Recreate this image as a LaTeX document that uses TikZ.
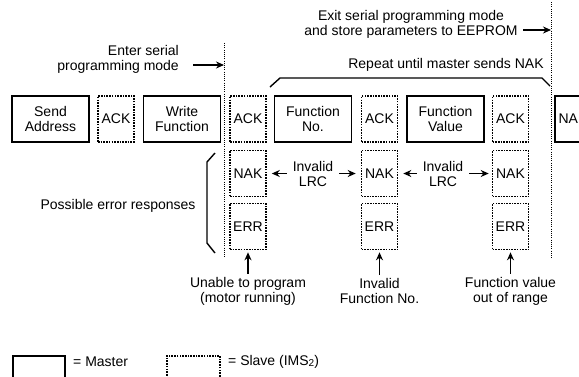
\documentclass[tikz,border=0pt]{standalone}
\usepackage{fontspec}
\setmainfont{Liberation Sans}
\usetikzlibrary{arrows.meta}
\begin{document}
\begin{tikzpicture}[x=1pt,y=-1pt,
  font=\fontsize{14}{15}\selectfont,
  master/.style={draw, line width=1.6pt, minimum height=46pt, inner sep=1pt, align=center},
  slave/.style={draw, line width=1.6pt, dash pattern=on 1.6pt off 1.1pt, minimum height=46pt, minimum width=36pt, inner sep=1pt, align=center},
  wide/.style={minimum width=77pt},
  lbl/.style={inner sep=0pt, align=center},
  arr/.style={line width=1.6pt, -{Stealth[length=8pt,width=7pt]}},
  divider/.style={line width=0.8pt, dash pattern=on 1pt off 1.2pt},
  bracket/.style={line width=1.4pt}
]
\useasboundingbox (0,0) rectangle (579,376);
\clip (0,0) rectangle (579,376);
% top row
\node[master, wide] (sa) at (50.5,119) {Send\\Address};
\node[slave] (ack1) at (116,119) {ACK};
\node[master, wide] (wf) at (182,119) {Write\\Function};
\node[slave] (ack2) at (248,119) {ACK};
\node[master, wide] (fn) at (313,119) {Function\\No.};
\node[slave] (ack3) at (379.5,119) {ACK};
\node[master, wide] (fv) at (445.5,119) {Function\\Value};
\node[slave] (ack4) at (510.5,119) {ACK};
\node[master, minimum width=36pt] (nakm) at (573,119) {NAK};
% error rows
\node[slave] (nak1) at (248,173.5) {NAK};
\node[slave] (nak2) at (379.5,173.5) {NAK};
\node[slave] (nak3) at (510.5,173.5) {NAK};
\node[slave] (err1) at (248,226.5) {ERR};
\node[slave] (err2) at (379.5,226.5) {ERR};
\node[slave] (err3) at (510.5,226.5) {ERR};
% dividers
\coordinate (d1t) at (224,43);
\coordinate (d1b) at (224,258);
\coordinate (d2t) at (551,2);
\coordinate (d2b) at (551,258);
\draw[divider] (d1t) -- (d1b);
\draw[divider] (d2t) -- (d2b);
% enter / exit
\node[lbl, align=right, anchor=east] (enter) at (179,59.5) {Enter serial\\programming mode};
\coordinate (entertail) at (193,65);
\coordinate (enterhead) at (224,65);
\draw[arr] (entertail) -- (enterhead);
\node[lbl] (exit) at (411,24.5) {Exit serial programming mode\\and store parameters to EEPROM};
\coordinate (exittail) at (523,30);
\coordinate (exithead) at (551,30);
\draw[arr] (exittail) -- (exithead);
% repeat brace
\node[lbl] (repeat) at (446,65) {Repeat until master sends NAK};
\coordinate (r1) at (270,87);
\coordinate (r2) at (280,78);
\coordinate (r3) at (542,78);
\coordinate (r4) at (550,86);
\draw[bracket] (r1) -- (r2) -- (r3) -- (r4);
% possible error responses
\node[lbl] (possible) at (118,206) {Possible error responses};
\coordinate (b1) at (215,153);
\coordinate (b2) at (207,162);
\coordinate (b3) at (207,243);
\coordinate (b4) at (215,253);
\draw[bracket] (b1) -- (b2) -- (b3) -- (b4);
% invalid LRC
\node[lbl, inner xsep=6pt] (lrc1) at (313,173.5) {Invalid\\LRC};
\node[lbl, inner xsep=6pt] (lrc2) at (443,173.5) {Invalid\\LRC};
\draw[arr, shorten >=5pt] (lrc1) -- (nak1);
\draw[arr, shorten >=5pt] (lrc1) -- (nak2);
\draw[arr, shorten >=5pt] (lrc2) -- (nak2);
\draw[arr, shorten >=3pt] (lrc2) -- (nak3);
% bottom labels
\node[lbl, inner ysep=3pt] (u1) at (248,291) {Unable to program\\(motor running)};
\node[lbl, inner ysep=3pt] (u2) at (379.5,291) {Invalid\\Function No.};
\node[lbl, inner ysep=3pt] (u3) at (510.5,291) {Function value\\out of range};
\draw[arr, shorten >=2pt] (u1) -- (err1);
\draw[arr, shorten >=2pt] (u2) -- (err2);
\draw[arr, shorten >=2pt] (u3) -- (err3);
% legend
\node[master, minimum width=52pt, minimum height=46pt, anchor=north west] (lm) at (12,355) {};
\node[lbl, anchor=west] (lmt) at (73,362) {= Master};
\node[slave, minimum width=53pt, minimum height=46pt, anchor=north west] (ls) at (166,355) {};
\node[lbl, anchor=west] (lst) at (228,362) {= Slave (IMS\raisebox{-1pt}{\fontsize{10}{10}\selectfont 2})};
\end{tikzpicture}
\end{document}
